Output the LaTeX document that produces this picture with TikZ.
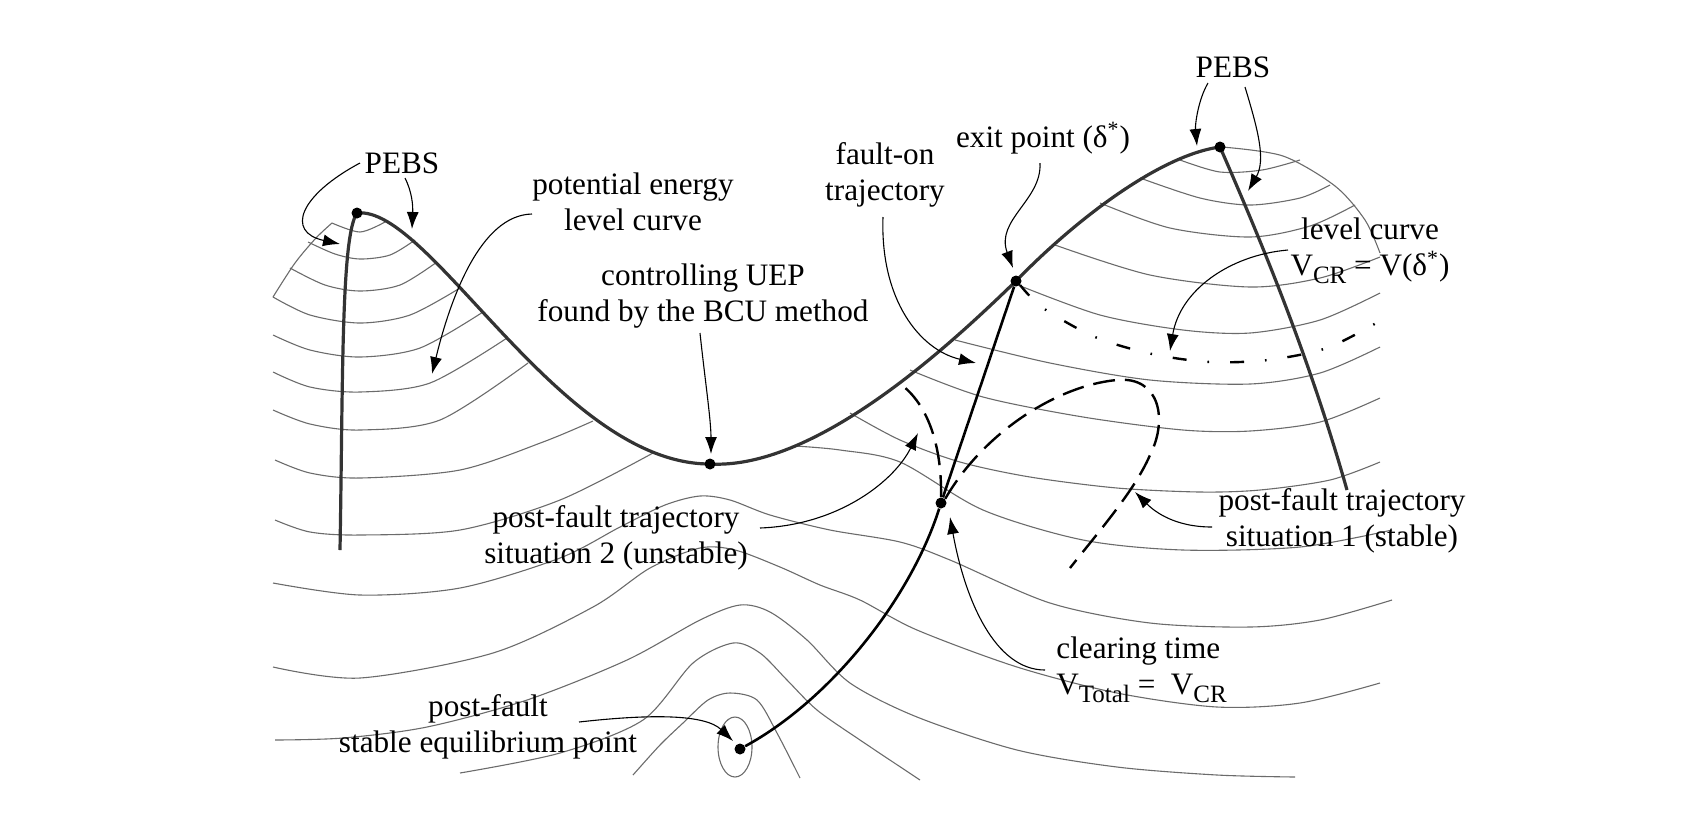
\documentclass[tikz,border=0pt]{standalone}
\usepackage{fontspec}
\setmainfont{Liberation Serif}
\usetikzlibrary{arrows.meta}
\newcommand{\lowsub}[1]{\raisebox{-0.55ex}{\fontsize{12.5}{12.5}\selectfont #1}}
\begin{document}
\begin{tikzpicture}[x=0.5pt,y=-0.5pt,
  contour/.style={draw=black!58, line width=0.55pt},
  boundary/.style={draw=black!80, line width=1.6pt},
  traj/.style={draw=black, line width=1.3pt},
  dashtraj/.style={draw=black, line width=1.2pt, dash pattern=on 11pt off 5pt},
  dashdot/.style={draw=black, line width=1.2pt, dash pattern=on 7pt off 10.5pt on 0.8pt off 10.5pt},
  arr/.style={draw=black, line width=0.55pt, -{Latex[length=8.5pt,width=6pt]}},
  dot/.style={circle, fill=black, inner sep=0pt, minimum size=5.5pt},
  lbl/.style={font=\fontsize{15.6}{17.8}\selectfont, align=center, inner sep=0pt},
]
\useasboundingbox (0,0) rectangle (1692,827);

% ---------- level curves: left family ----------
\draw[contour] plot[smooth] coordinates {(273,297) (295,263) (316,238) (332,223)};
\draw[contour] plot[smooth] coordinates {(332,223) (360,232) (385,222)};
\draw[contour] plot[smooth] coordinates {(308,242) (335,254) (360,259) (390,255) (415,240)};
\draw[contour] plot[smooth] coordinates {(290,268) (325,285) (360,291) (400,285) (437,262)};
\draw[contour] plot[smooth] coordinates {(273,297) (310,315) (360,323) (410,315) (460,288)};
\draw[contour] plot[smooth] coordinates {(273,335) (310,350) (360,357) (420,348) (483,312)};
\draw[contour] plot[smooth] coordinates {(273,372) (310,387) (360,392) (430,383) (507,338)};
\draw[contour] plot[smooth] coordinates {(273,410) (310,424) (360,430) (440,420) (528,363)};
\draw[contour] plot[smooth] coordinates {(275,460) (310,473) (360,478) (460,470) (543,442) (593,421)};
\draw[contour] plot[smooth] coordinates {(275,520) (310,532) (360,535) (460,530) (560,500) (653,453)};
\draw[contour] plot[smooth] coordinates {(273,583) (360,595) (460,588) (560,558) (620,527) (665,505) (700,496) (730,500) (770,515) (830,530) (900,542) (950,560) (1050,603) (1150,623) (1250,627) (1320,620) (1392,600)};
\draw[contour] plot[smooth] coordinates {(273,667) (360,678) (493,653) (593,607) (650,568) (700,548) (735,550) (780,567) (820,585) (860,600) (917,630) (1017,667) (1117,693) (1217,707) (1300,703) (1380,683)};
\draw[contour] plot[smooth] coordinates {(275,740) (343,738) (427,727) (527,700) (627,660) (700,620) (740,605) (770,612) (807,640) (850,683) (917,717) (1017,750) (1117,767) (1217,775) (1295,777)};
\draw[contour] plot[smooth] coordinates {(460,773) (560,753) (643,720) (693,663) (733,643) (760,653) (787,680) (817,710) (860,740) (920,780)};
\draw[contour] plot[smooth] coordinates {(633,775) (660,745) (683,723) (708,700) (730,693) (757,700) (777,733) (800,778)};
\draw[contour] (735,747) ellipse [x radius=17, y radius=30];

% ---------- level curves: right family ----------
\draw[contour] plot[smooth] coordinates {(1222,147) (1283,156) (1335,186) (1365,220) (1380,253)};
\draw[contour] plot[smooth] coordinates {(1180,160) (1220,172) (1262,170) (1300,160)};
\draw[contour] plot[smooth] coordinates {(1140,178) (1200,198) (1250,205) (1300,198) (1330,185)};
\draw[contour] plot[smooth] coordinates {(1100,203) (1170,228) (1250,237) (1310,226) (1355,205)};
\draw[contour] plot[smooth] coordinates {(1055,245) (1150,275) (1250,287) (1320,278) (1380,257)};
\draw[contour] plot[smooth] coordinates {(1018,285) (1100,315) (1183,330) (1250,333) (1320,320) (1380,293)};
\draw[contour] plot[smooth] coordinates {(955,340) (1050,363) (1150,380) (1250,384) (1320,373) (1380,347)};
\draw[contour] plot[smooth] coordinates {(910,370) (983,397) (1083,417) (1183,430) (1250,431) (1320,422) (1380,398)};
\draw[contour] plot[smooth] coordinates {(850,413) (900,440) (960,462) (1030,477) (1117,488) (1200,492) (1260,490) (1330,480) (1380,462)};
\draw[contour] plot[smooth] coordinates {(795,446) (840,450) (900,462) (983,510) (1083,540) (1183,550) (1300,547) (1392,530)};

% ---------- stability boundary ----------
\draw[boundary] (340,550) .. controls (343,380) and (341,236) .. (357,213)
  .. controls (430,205) and (560,464) .. (710,464)
  .. controls (820,470) and (960,335) .. (1016,281)
  .. controls (1075,220) and (1160,155) .. (1220,147);
\draw[boundary] (1220,147) .. controls (1265,250) and (1310,360) .. (1347,490);

% ---------- dots ----------
\node[dot] (pebsLdot) at (357,213) {};
\node[dot] (uepdot) at (710,464) {};
\node[dot] (exitdot) at (1016,281) {};
\node[dot] (pebsRdot) at (1220,147) {};
\node[dot] (clrdot) at (941,503) {};
\node[dot] (sepdot) at (740,749) {};

% ---------- trajectories ----------
\draw[traj] (sepdot) .. controls (830,700) and (910,600) .. (clrdot);
\draw[traj] (clrdot) -- (exitdot);
\coordinate (s2end) at (903,386);
\draw[dashtraj] (clrdot.north) .. controls (942,450) and (930,408) .. (s2end);
\coordinate (s1end) at (1070,568);
\draw[dashtraj] (clrdot.north east) .. controls (985,430) and (1060,385) .. (1117,380) .. controls (1160,376) and (1168,420) .. (1150,455) .. controls (1135,490) and (1100,530) .. (s1end);
\draw[dashdot] plot[smooth] coordinates {(1020,285) (1043,308) (1095,337) (1152,354) (1210,362) (1268,360) (1327,348) (1378,322)};

% ---------- labels ----------
\node[lbl] (pebsL) at (402,163) {PEBS};
\node[lbl] (pelc) at (633,202) {potential energy\\level curve};
\node[lbl] (cuep) at (703,296) {controlling UEP\\found by the BCU method};
\node[lbl] (faulton) at (885,175) {fault-on\\trajectory};
\node[lbl] (exitlbl) at (1043,138) {exit point (δ\textsuperscript{*})};
\node[lbl] (pebsR) at (1233,67) {PEBS};
\node[lbl] (vcr) at (1370,251) {level curve\\V\lowsub{CR} = V(δ\textsuperscript{*})};
\node[lbl] (sit1) at (1342,521) {post-fault trajectory\\situation 1 (stable)};
\node[lbl, anchor=west, align=left] (clr) at (1056,670) {clearing time\\V\lowsub{Total} =\ \ V\lowsub{CR}};
\node[lbl] (sit2) at (616,538) {post-fault trajectory\\situation 2 (unstable)};
\node[lbl] (seplbl) at (488,727) {post-fault\\stable equilibrium point};

% ---------- arrows ----------
\coordinate (a1s) at (360,163); \coordinate (a1t) at (340,244);
\draw[arr] (a1s) .. controls (300,195) and (285,232) .. (a1t);
\coordinate (a2s) at (405,178); \coordinate (a2t) at (412,229);
\draw[arr] (a2s) .. controls (412,192) and (413,205) .. (a2t);
\coordinate (a3s) at (532,214); \coordinate (a3t) at (432,374);
\draw[arr] (a3s) .. controls (480,215) and (450,300) .. (a3t);
\coordinate (a4s) at (700,333); \coordinate (a4t) at (711,454);
\draw[arr] (a4s) .. controls (705,380) and (711,420) .. (a4t);
\coordinate (a5s) at (883,217); \coordinate (a5t) at (976,363);
\draw[arr] (a5s) .. controls (880,300) and (920,350) .. (a5t);
\coordinate (a6s) at (1040,163); \coordinate (a6t) at (1013,268);
\draw[arr] (a6s) .. controls (1042,200) and (995,220) .. (a6t);
\coordinate (a7s) at (1208,83); \coordinate (a7t) at (1197,146);
\draw[arr] (a7s) .. controls (1198,100) and (1195,125) .. (a7t);
\coordinate (a8s) at (1245,87); \coordinate (a8t) at (1248,191);
\draw[arr] (a8s) .. controls (1258,130) and (1266,160) .. (a8t);
\coordinate (a9s) at (1288,250); \coordinate (a9t) at (1170,351);
\draw[arr] (a9s) .. controls (1230,255) and (1180,290) .. (a9t);
\coordinate (a10s) at (1212,527); \coordinate (a10t) at (1135,492);
\draw[arr] (a10s) .. controls (1175,527) and (1155,512) .. (a10t);
\coordinate (a11s) at (1045,670); \coordinate (a11t) at (950,517);
\draw[arr] (a11s) .. controls (995,670) and (965,600) .. (a11t);
\coordinate (a12s) at (760,528); \coordinate (a12t) at (918,433);
\draw[arr] (a12s) .. controls (840,525) and (895,480) .. (a12t);
\coordinate (a13s) at (579,722); \coordinate (a13t) at (733,741);
\draw[arr] (a13s) .. controls (650,714) and (705,714) .. (a13t);

\end{tikzpicture}
\end{document}
